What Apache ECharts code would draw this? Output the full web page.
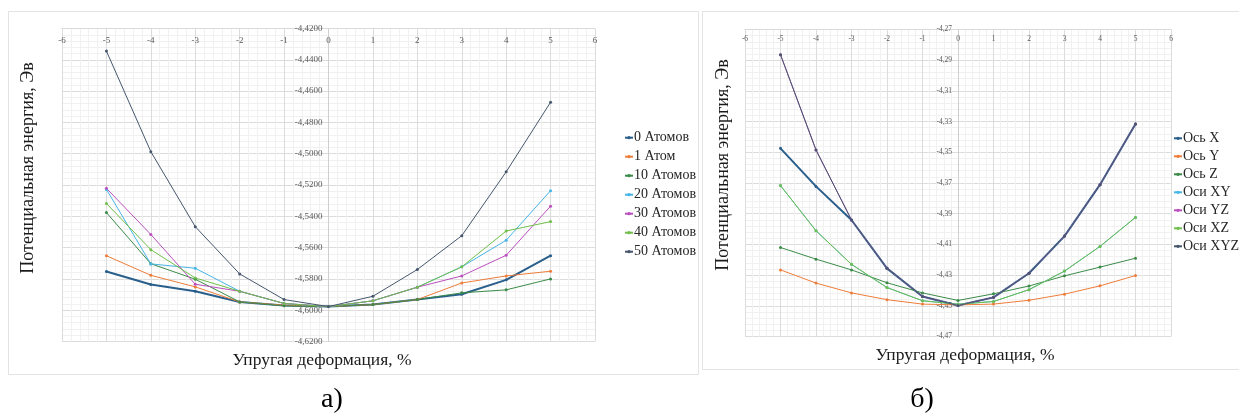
<!DOCTYPE html>
<html><head><meta charset="utf-8">
<script src="https://cdn.jsdelivr.net/npm/echarts@6/dist/echarts.min.js"></script>
<style>html,body{margin:0;padding:0;background:#fff}#c{width:1239px;height:419px}</style>
</head><body><div id="c"></div>
<script>
// strain, %
const strain = [-5, -4, -3, -2, -1, 0, 1, 2, 3, 4, 5];
// left chart (а): potential energy, eV
const atoms0  = [-4.5753, -4.5836, -4.5879, -4.5947, -4.5970, -4.5977, -4.5964, -4.5932, -4.5898, -4.5806, -4.5652];
const atoms1  = [-4.5652, -4.5777, -4.5851, -4.5947, -4.5968, -4.5977, -4.5964, -4.5932, -4.5826, -4.5781, -4.5751];
const atoms10 = [-4.5376, -4.5703, -4.5802, -4.5947, -4.5972, -4.5977, -4.5964, -4.5932, -4.5889, -4.5870, -4.5800];
const atoms20 = [-4.5228, -4.5704, -4.5732, -4.5879, -4.5957, -4.5977, -4.5940, -4.5853, -4.5723, -4.5553, -4.5236];
const atoms30 = [-4.5221, -4.5516, -4.5834, -4.5879, -4.5957, -4.5977, -4.5940, -4.5853, -4.5781, -4.5649, -4.5335];
const atoms40 = [-4.5318, -4.5613, -4.5794, -4.5879, -4.5957, -4.5977, -4.5940, -4.5853, -4.5723, -4.5494, -4.5434];
const atoms50 = [-4.4344, -4.4987, -4.5466, -4.5768, -4.5932, -4.5977, -4.5911, -4.5740, -4.5524, -4.5116, -4.4671];
const leftNames = ['0 Атомов', '1 Атом', '10 Атомов', '20 Атомов', '30 Атомов', '40 Атомов', '50 Атомов'];
// right chart (б)
const axisX   = [-4.3474, -4.3722, -4.3941, -4.4256, -4.4439, -4.4498, -4.4445, -4.4288, -4.4046, -4.3711, -4.3315];
const axisY   = [-4.4266, -4.4352, -4.4416, -4.4460, -4.4489, -4.4494, -4.4489, -4.4464, -4.4424, -4.4370, -4.4303];
const axisZ   = [-4.4120, -4.4196, -4.4266, -4.4350, -4.4416, -4.4465, -4.4422, -4.4371, -4.4305, -4.4248, -4.4190];
const axisXY  = [-4.3717, -4.4011, -4.4230, -4.4381, -4.4467, -4.4490, -4.4472, -4.4395, -4.4274, -4.4113, -4.3924];
const axisYZ  = [-4.2864, -4.3485, -4.3941, -4.4256, -4.4439, -4.4498, -4.4445, -4.4288, -4.4046, -4.3711, -4.3315];
const axisXZ  = [-4.3717, -4.4011, -4.4230, -4.4381, -4.4467, -4.4490, -4.4472, -4.4395, -4.4274, -4.4113, -4.3924];
const axisXYZ = [-4.2864, -4.3485, -4.3941, -4.4256, -4.4439, -4.4498, -4.4445, -4.4288, -4.4046, -4.3711, -4.3315];
const rightNames = ['Ось X', 'Ось Y', 'Ось Z', 'Оси XY', 'Оси YZ', 'Оси XZ', 'Оси XYZ'];

const xTitle = 'Упругая деформация, %';
const yTitle = 'Потенциальная энергия, Эв';

const colors = ['#2a5f8c', '#ef7d3a', '#3b8b48', '#47b5e6', '#bb4fbf', '#6fbf4a', '#46576d'];
const widths = [2, 1, 1, 1, 1, 1, 1];
const FF = 'Liberation Serif';

function mk(name, vals, i, g) {
  return {
    name, type: 'line', xAxisIndex: g, yAxisIndex: g,
    data: strain.map((x, k) => [x, vals[k]]),
    symbol: 'circle', symbolSize: 3, showSymbol: true,
    lineStyle: { width: widths[i], color: colors[i] },
    itemStyle: { color: colors[i] },
    emphasis: { disabled: true }, animation: false
  };
}
const leftVals = [atoms0, atoms1, atoms10, atoms20, atoms30, atoms40, atoms50];
const rightVals = [axisX, axisY, axisZ, axisXY, axisYZ, axisXZ, axisXYZ];
const series = [];
leftNames.forEach((n, i) => series.push(mk(n, leftVals[i], i, 0)));
rightNames.forEach((n, i) => series.push(mk(n, rightVals[i], i, 1)));

function xAx(g, fs, margin) {
  return {
    gridIndex: g, type: 'value', min: -6, max: 6, interval: 1, position: 'top',
    axisLine: { show: true, onZero: false, lineStyle: { color: '#d9d9d9' } },
    axisTick: { show: false },
    axisLabel: { inside: true, margin, fontSize: fs, fontFamily: FF, color: '#595959' },
    splitLine: { show: true, lineStyle: { color: '#dcdcdc' } },
    minorTick: { show: false, splitNumber: 5 },
    minorSplitLine: { show: true, lineStyle: { color: '#f1f1f1' } }
  };
}
function yAx(g, min, max, dec, fs, offset) {
  return {
    gridIndex: g, type: 'value', min, max, interval: 0.02, position: 'left', offset,
    axisLine: { show: true, onZero: false, lineStyle: { color: '#cfcfcf' } },
    axisTick: { show: false },
    axisLabel: { fontSize: fs, fontFamily: FF, color: '#595959', margin: 6,
      formatter: v => v.toFixed(dec).replace('.', ',') },
    splitLine: { show: true, lineStyle: { color: '#dcdcdc' } },
    minorTick: { show: false, splitNumber: 5 },
    minorSplitLine: { show: true, lineStyle: { color: '#f1f1f1' } }
  };
}

const legendText = { fontFamily: FF, fontSize: 14, lineHeight: 14, color: '#262626', padding: [0, 0, 0, -4] };

const chart = echarts.init(document.getElementById('c'), null, { renderer: 'canvas' });
chart.setOption({
  backgroundColor: '#fff',
  animation: false,
  grid: [
    { left: 62, top: 28.5, width: 533, height: 313 },
    { left: 745, top: 29.5, width: 426, height: 307 }
  ],
  xAxis: [xAx(0, 9, 8), xAx(1, 7.5, 6)],
  yAxis: [yAx(0, -4.62, -4.42, 4, 9, -266.5), yAx(1, -4.47, -4.27, 2, 7.5, -213)],
  legend: [
    { data: leftNames, orient: 'vertical', left: 624, top: 130.7, padding: 0, itemWidth: 8, itemHeight: 4, itemGap: 5,
      textStyle: legendText },
    { data: rightNames, orient: 'vertical', left: 1173, top: 131.3, padding: 0, itemWidth: 8, itemHeight: 4, itemGap: 4,
      textStyle: legendText }
  ],
  graphic: [
    { type: 'rect', shape: { x: 8.5, y: 11.5, width: 690, height: 363 }, style: { fill: 'none', stroke: '#e3e3e3', lineWidth: 1 }, z: -10 },
    { type: 'rect', shape: { x: 702.5, y: 11.5, width: 545, height: 358 }, style: { fill: 'none', stroke: '#e3e3e3', lineWidth: 1 }, z: -10 },
    { type: 'text', x: 322, y: 360, style: { text: xTitle, font: '17.5px "Liberation Serif"', fill: '#1a1a1a', textAlign: 'center', textVerticalAlign: 'middle' } },
    { type: 'text', x: 965, y: 355, style: { text: xTitle, font: '17.5px "Liberation Serif"', fill: '#1a1a1a', textAlign: 'center', textVerticalAlign: 'middle' } },
    { type: 'text', x: 28, y: 168, rotation: Math.PI / 2, style: { text: yTitle, font: '18px "Liberation Serif"', fill: '#1a1a1a', textAlign: 'center', textVerticalAlign: 'middle' } },
    { type: 'text', x: 723, y: 165, rotation: Math.PI / 2, style: { text: yTitle, font: '18px "Liberation Serif"', fill: '#1a1a1a', textAlign: 'center', textVerticalAlign: 'middle' } },
    { type: 'text', x: 332, y: 400, style: { text: 'а)', font: '28px "Liberation Serif"', fill: '#000', textAlign: 'center', textVerticalAlign: 'middle' } },
    { type: 'text', x: 922, y: 400, style: { text: 'б)', font: '28px "Liberation Serif"', fill: '#000', textAlign: 'center', textVerticalAlign: 'middle' } }
  ],
  series
});
</script>
</body></html>
